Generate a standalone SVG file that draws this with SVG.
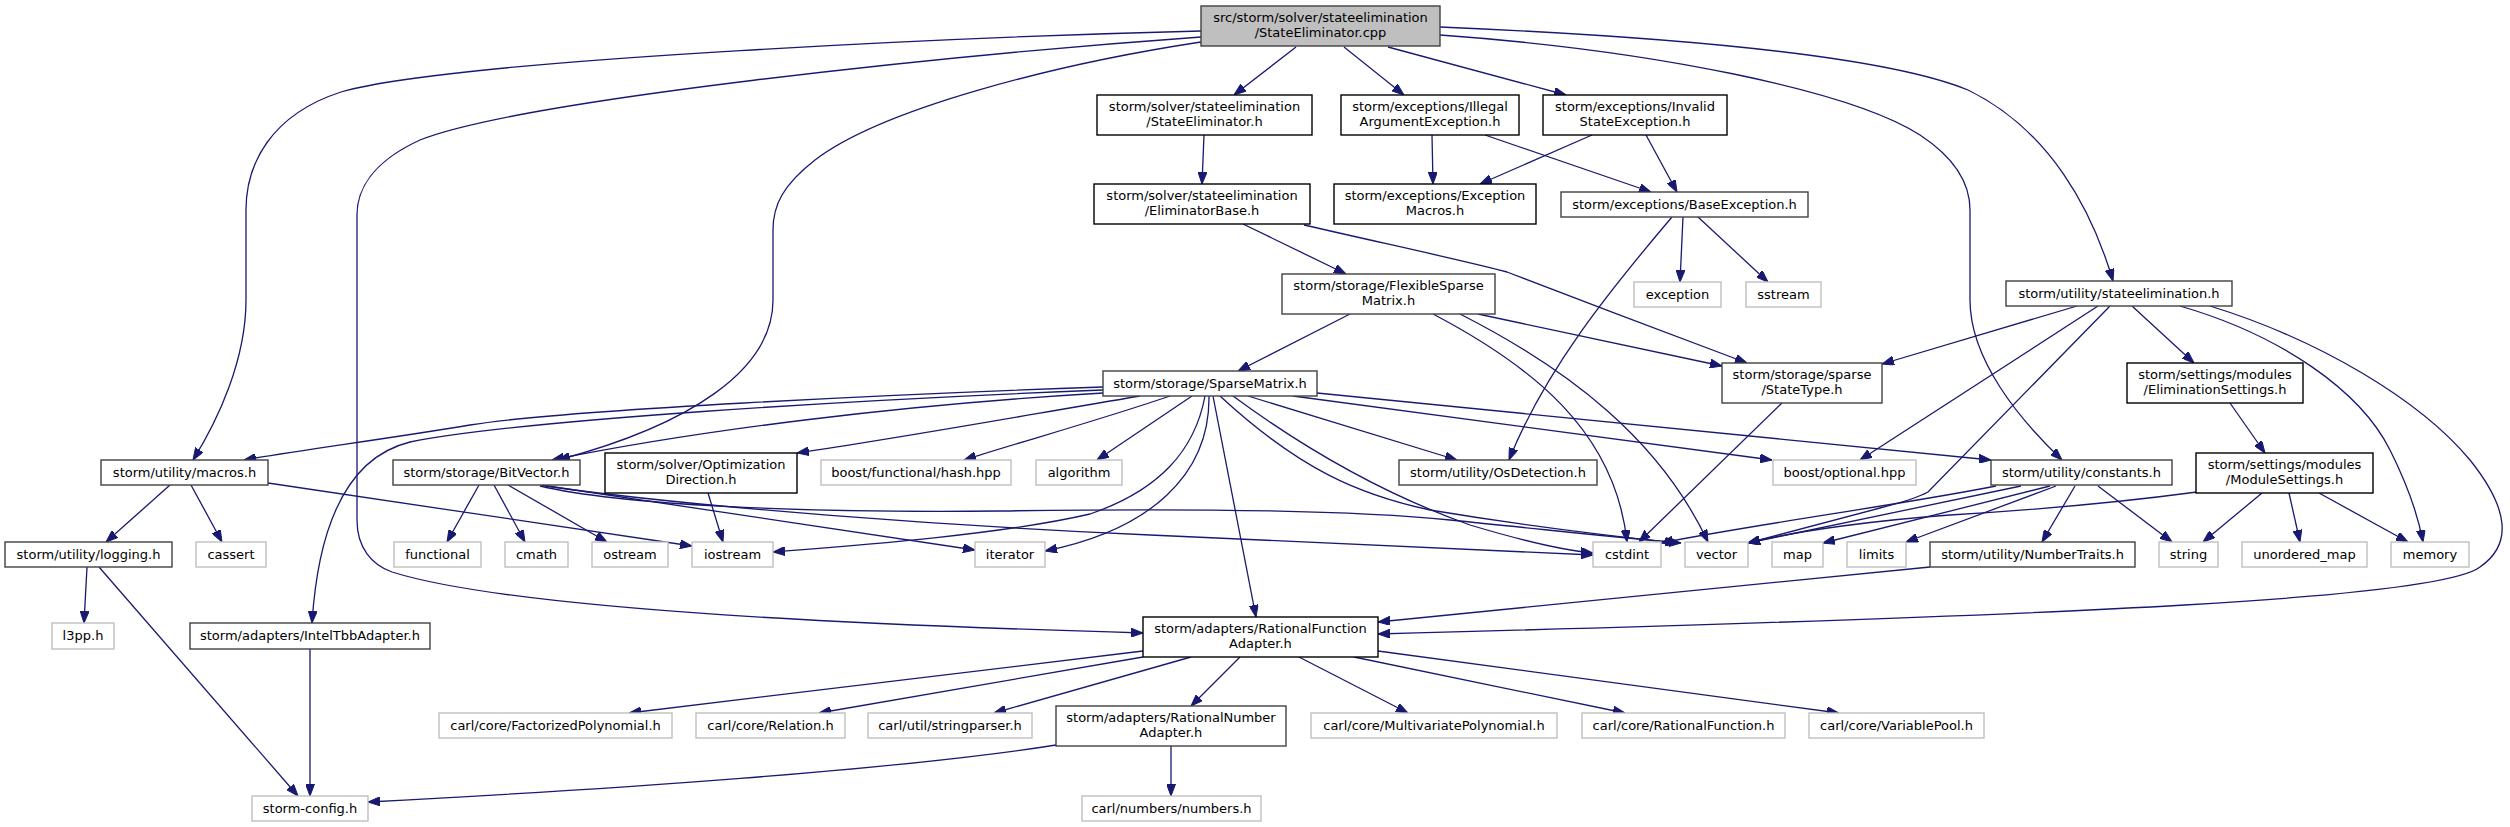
<svg xmlns="http://www.w3.org/2000/svg" width="2510" height="827" viewBox="0 0 2510 827">
<defs>
<marker id="a" viewBox="0 0 12 9" refX="12" refY="4.5" markerWidth="12" markerHeight="9" markerUnits="userSpaceOnUse" orient="auto"><path d="M0,0 L12,4.5 L0,9 z" fill="#191970" stroke="#191970" stroke-width="1"/></marker>
<style>
rect{fill:#fff;stroke:#404040;stroke-width:1.4}
.k rect{stroke:#000}
.g rect{stroke:#bfbfbf}
.r rect{fill:#bfbfbf}
text{font-family:"DejaVu Sans",sans-serif;font-size:13px;text-anchor:middle;fill:#000}
#edges path{fill:none;stroke:#191970;stroke-width:1.3;marker-end:url(#a)}
</style>
</defs>
<rect x="0" y="0" width="2510" height="827" style="fill:#fff;stroke:none"/>
<g id="edges">
<path d="M1296,47 L1234,95"/>
<path d="M1344,47 L1404,95"/>
<path d="M1388,47 L1566,95"/>
<path d="M1201,31 C1000,36 460,58 341,92 C270,115 246,165 246,210 L246,300 C246,360 218,420 193,460"/>
<path d="M1201,37 C950,55 520,100 420,140 C372,162 357,190 357,215 L357,520 C357,548 372,565 392,572 C520,612 900,626 1143,633"/>
<path d="M1201,42 C1050,65 880,110 815,160 C783,185 773,205 773,230 L773,300 C773,370 690,425 558,460"/>
<path d="M1440,35 C1650,50 1850,90 1920,135 C1958,160 1970,185 1970,210 L1970,300 C1970,360 2020,420 2062,460"/>
<path d="M1440,27 C1700,38 1890,58 1968,90 C2050,130 2092,210 2113,281"/>
<path d="M1204,135 L1202,184"/>
<path d="M1432,135 L1433,184"/>
<path d="M1485,135 L1651,192"/>
<path d="M1592,135 L1480,184"/>
<path d="M1646,135 L1677,192"/>
<path d="M1243,224 L1346,274"/>
<path d="M1304,225 C1400,247 1470,262 1507,272 C1580,300 1680,338 1747,363"/>
<path d="M1683,217 L1680,282"/>
<path d="M1698,217 L1768,282"/>
<path d="M1672,217 C1610,290 1545,370 1509,460"/>
<path d="M1350,314 L1238,371"/>
<path d="M1433,314 C1530,365 1615,430 1627,542"/>
<path d="M1460,314 C1570,370 1660,440 1708,542"/>
<path d="M1478,314 L1722,366"/>
<path d="M1782,403 L1639,542"/>
<path d="M1103,387 C900,394 560,410 470,425 C380,440 300,450 244,460"/>
<path d="M1103,390 C850,400 520,420 410,442 C345,458 318,530 312,623"/>
<path d="M1103,393 C900,405 700,430 552,460"/>
<path d="M1140,396 C1010,418 900,438 797,453"/>
<path d="M1170,396 C1100,420 1020,442 964,460"/>
<path d="M1192,396 L1097,460"/>
<path d="M1205,396 C1195,450 1160,490 1090,514 C1000,535 850,546 773,552"/>
<path d="M1209,396 C1210,475 1150,530 1045,551"/>
<path d="M1213,396 L1256,617"/>
<path d="M1220,396 C1300,470 1360,495 1430,510 C1520,525 1620,537 1677,543"/>
<path d="M1233,396 C1320,460 1400,500 1470,525 C1520,540 1560,550 1593,553"/>
<path d="M1248,396 L1457,460"/>
<path d="M1293,396 L1772,460"/>
<path d="M1317,393 L1991,460"/>
<path d="M479,485 L447,542"/>
<path d="M494,485 L525,542"/>
<path d="M508,485 L607,542"/>
<path d="M541,485 L975,550"/>
<path d="M545,486 C700,508 950,526 1150,535 C1350,544 1500,550 1593,555"/>
<path d="M540,486 C620,505 800,513 1000,511 C1200,508 1350,510 1450,520 C1550,530 1620,538 1681,543"/>
<path d="M170,485 L106,542"/>
<path d="M191,485 L222,542"/>
<path d="M268,483 L692,546"/>
<path d="M708,493 L723,542"/>
<path d="M87,567 L84,623"/>
<path d="M99,567 L298,796"/>
<path d="M310,649 L310,796"/>
<path d="M1056,745 C900,770 600,790 368,802"/>
<path d="M1171,746 L1171,796"/>
<path d="M1143,651 L629,713"/>
<path d="M1143,657 L819,713"/>
<path d="M1191,657 L994,713"/>
<path d="M1240,657 L1191,706"/>
<path d="M1299,657 L1408,713"/>
<path d="M1354,657 L1625,713"/>
<path d="M1378,651 L1839,713"/>
<path d="M1930,567 L1378,622"/>
<path d="M2210,306 C2320,340 2420,400 2470,460 C2510,510 2512,545 2480,567 C2440,598 2100,615 1378,634"/>
<path d="M2180,306 C2280,335 2360,390 2390,450 C2405,480 2418,515 2423,542"/>
<path d="M2077,306 L1882,364"/>
<path d="M2098,306 L1860,460"/>
<path d="M2110,306 L1928,492 C1915,499 1900,503 1880,508 L1748,543"/>
<path d="M2132,306 L2194,363"/>
<path d="M1996,486 C1900,505 1750,525 1661,543"/>
<path d="M2021,486 L1748,543"/>
<path d="M2050,486 L1823,543"/>
<path d="M2056,486 L1906,542"/>
<path d="M2075,486 L2042,542"/>
<path d="M2098,486 L2172,542"/>
<path d="M2230,403 L2265,453"/>
<path d="M2262,493 L2203,542"/>
<path d="M2289,493 L2300,542"/>
<path d="M2319,493 L2408,542"/>
<path d="M2197,492 C2100,505 2000,512 1950,515 C1880,520 1800,530 1748,543"/>
</g>
<g id="root" class="r"><rect x="1201" y="6" width="239" height="40"/><text x="1320.5" y="22">src/storm/solver/stateelimination</text><text x="1320.5" y="37">/StateEliminator.cpp</text></g>
<g id="seh" class="k"><rect x="1097" y="95" width="215" height="40"/><text x="1204.5" y="111">storm/solver/stateelimination</text><text x="1204.5" y="126">/StateEliminator.h</text></g>
<g id="iae" class="k"><rect x="1341" y="95" width="178" height="40"/><text x="1430" y="111">storm/exceptions/Illegal</text><text x="1430" y="126">ArgumentException.h</text></g>
<g id="ise" class="k"><rect x="1543" y="95" width="184" height="40"/><text x="1635" y="111">storm/exceptions/Invalid</text><text x="1635" y="126">StateException.h</text></g>
<g id="eb" class="k"><rect x="1094" y="184" width="216" height="40"/><text x="1202" y="200">storm/solver/stateelimination</text><text x="1202" y="215">/EliminatorBase.h</text></g>
<g id="em" class="k"><rect x="1334" y="184" width="202" height="40"/><text x="1435" y="200">storm/exceptions/Exception</text><text x="1435" y="215">Macros.h</text></g>
<g id="be"><rect x="1561" y="192" width="247" height="25"/><text x="1684.5" y="209">storm/exceptions/BaseException.h</text></g>
<g id="exception" class="g"><rect x="1634" y="282" width="87" height="25"/><text x="1677.5" y="299">exception</text></g>
<g id="sstream" class="g"><rect x="1746" y="282" width="75" height="25"/><text x="1783.5" y="299">sstream</text></g>
<g id="se"><rect x="2006" y="281" width="226" height="25"/><text x="2119" y="298">storm/utility/stateelimination.h</text></g>
<g id="fsm"><rect x="1282" y="274" width="213" height="40"/><text x="1388.5" y="290">storm/storage/FlexibleSparse</text><text x="1388.5" y="305">Matrix.h</text></g>
<g id="st"><rect x="1722" y="363" width="160" height="40"/><text x="1802" y="379">storm/storage/sparse</text><text x="1802" y="394">/StateType.h</text></g>
<g id="es" class="k"><rect x="2127" y="363" width="176" height="40"/><text x="2215" y="379">storm/settings/modules</text><text x="2215" y="394">/EliminationSettings.h</text></g>
<g id="sm"><rect x="1103" y="371" width="214" height="25"/><text x="1210" y="388">storm/storage/SparseMatrix.h</text></g>
<g id="macros"><rect x="101" y="460" width="167" height="25"/><text x="184.5" y="477">storm/utility/macros.h</text></g>
<g id="bv"><rect x="393" y="460" width="187" height="25"/><text x="486.5" y="477">storm/storage/BitVector.h</text></g>
<g id="od" class="k"><rect x="605" y="453" width="192" height="40"/><text x="701" y="469">storm/solver/Optimization</text><text x="701" y="484">Direction.h</text></g>
<g id="hash" class="g"><rect x="821" y="460" width="190" height="25"/><text x="916" y="477">boost/functional/hash.hpp</text></g>
<g id="algorithm" class="g"><rect x="1036" y="460" width="86" height="25"/><text x="1079" y="477">algorithm</text></g>
<g id="osd"><rect x="1399" y="460" width="198" height="25"/><text x="1498" y="477">storm/utility/OsDetection.h</text></g>
<g id="bopt" class="g"><rect x="1773" y="460" width="143" height="25"/><text x="1844.5" y="477">boost/optional.hpp</text></g>
<g id="const"><rect x="1991" y="460" width="181" height="25"/><text x="2081.5" y="477">storm/utility/constants.h</text></g>
<g id="ms" class="k"><rect x="2196" y="453" width="177" height="40"/><text x="2284.5" y="469">storm/settings/modules</text><text x="2284.5" y="484">/ModuleSettings.h</text></g>
<g id="logging"><rect x="5" y="542" width="167" height="25"/><text x="88.5" y="559">storm/utility/logging.h</text></g>
<g id="cassert" class="g"><rect x="196" y="542" width="70" height="25"/><text x="231" y="559">cassert</text></g>
<g id="functional" class="g"><rect x="394" y="542" width="87" height="25"/><text x="437.5" y="559">functional</text></g>
<g id="cmath" class="g"><rect x="505" y="542" width="63" height="25"/><text x="536.5" y="559">cmath</text></g>
<g id="ostream" class="g"><rect x="592" y="542" width="76" height="25"/><text x="630" y="559">ostream</text></g>
<g id="iostream" class="g"><rect x="692" y="542" width="81" height="25"/><text x="732.5" y="559">iostream</text></g>
<g id="iterator" class="g"><rect x="975" y="542" width="70" height="25"/><text x="1010" y="559">iterator</text></g>
<g id="cstdint" class="g"><rect x="1593" y="542" width="68" height="25"/><text x="1627" y="559">cstdint</text></g>
<g id="vector" class="g"><rect x="1685" y="542" width="63" height="25"/><text x="1716.5" y="559">vector</text></g>
<g id="map" class="g"><rect x="1772" y="542" width="51" height="25"/><text x="1797.5" y="559">map</text></g>
<g id="limits" class="g"><rect x="1847" y="542" width="59" height="25"/><text x="1876.5" y="559">limits</text></g>
<g id="nt"><rect x="1930" y="542" width="205" height="25"/><text x="2032.5" y="559">storm/utility/NumberTraits.h</text></g>
<g id="string" class="g"><rect x="2159" y="542" width="59" height="25"/><text x="2188.5" y="559">string</text></g>
<g id="umap" class="g"><rect x="2242" y="542" width="125" height="25"/><text x="2304.5" y="559">unordered_map</text></g>
<g id="memory" class="g"><rect x="2391" y="542" width="78" height="25"/><text x="2430" y="559">memory</text></g>
<g id="l3pp" class="g"><rect x="52" y="623" width="62" height="26"/><text x="83" y="640">l3pp.h</text></g>
<g id="tbb"><rect x="190" y="623" width="240" height="26"/><text x="310" y="640">storm/adapters/IntelTbbAdapter.h</text></g>
<g id="rfa" class="k"><rect x="1143" y="617" width="235" height="40"/><text x="1260.5" y="633">storm/adapters/RationalFunction</text><text x="1260.5" y="648">Adapter.h</text></g>
<g id="fp" class="g"><rect x="439" y="713" width="233" height="25"/><text x="555.5" y="730">carl/core/FactorizedPolynomial.h</text></g>
<g id="rel" class="g"><rect x="696" y="713" width="149" height="25"/><text x="770.5" y="730">carl/core/Relation.h</text></g>
<g id="sp" class="g"><rect x="868" y="713" width="164" height="25"/><text x="950" y="730">carl/util/stringparser.h</text></g>
<g id="rna"><rect x="1056" y="706" width="230" height="40"/><text x="1171" y="722">storm/adapters/RationalNumber</text><text x="1171" y="737">Adapter.h</text></g>
<g id="mvp" class="g"><rect x="1311" y="713" width="246" height="25"/><text x="1434" y="730">carl/core/MultivariatePolynomial.h</text></g>
<g id="rf" class="g"><rect x="1582" y="713" width="203" height="25"/><text x="1683.5" y="730">carl/core/RationalFunction.h</text></g>
<g id="vp" class="g"><rect x="1809" y="713" width="175" height="25"/><text x="1896.5" y="730">carl/core/VariablePool.h</text></g>
<g id="config" class="g"><rect x="252" y="796" width="116" height="25"/><text x="310" y="813">storm-config.h</text></g>
<g id="numbers" class="g"><rect x="1082" y="796" width="179" height="25"/><text x="1171.5" y="813">carl/numbers/numbers.h</text></g>
</svg>
